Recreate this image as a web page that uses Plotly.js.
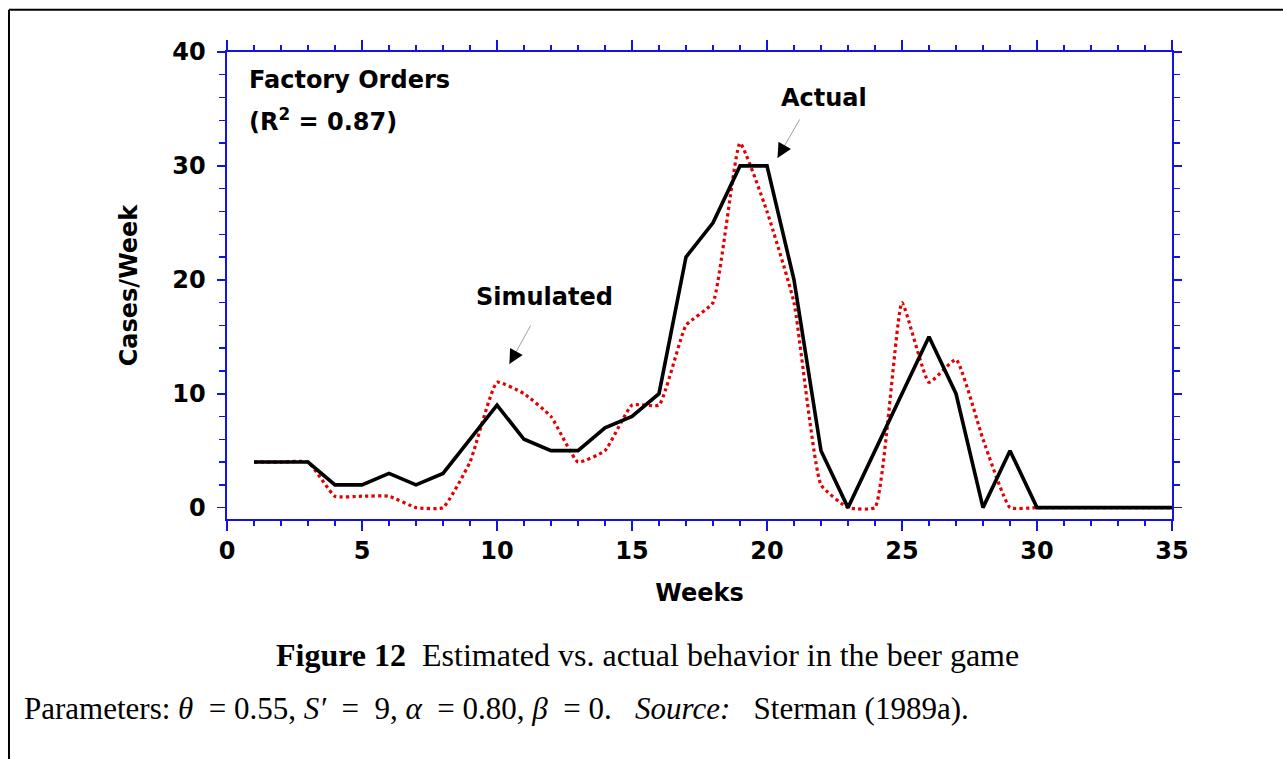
<!DOCTYPE html>
<html>
<head>
<meta charset="utf-8">
<script src="https://cdn.plot.ly/plotly-3.0.1.min.js"></script>
<style>
html,body{margin:0;padding:0;background:#fff;}
#chart{width:1283px;height:759px;}
</style>
</head>
<body>
<div id="chart"></div>
<script>
// Data
const weeks = [1,2,3,4,5,6,7,8,9,10,11,12,13,14,15,16,17,18,19,20,21,22,23,24,25,26,27,28,29,30,31,32,33,34,35];
const actualOrders = [4,4,4,2,2,3,2,3,6,9,6,5,5,7,8,10,22,25,30,30,20,5,0,5,10,15,10,0,5,0,0,0,0,0,0];
const simulatedOrders = [4,4,4,1,1,1,0,0,4,11,10,8,4,5,9,9,16,18,32,26,18,2,0,0,18,11,13,6,0,0,0,0,0,0,0];

const xTickVals = [0,5,10,15,20,25,30,35];
const yTickVals = [0,10,20,30,40];

const axisBlue = 'rgb(20,20,225)';
const boldFont = {family: 'DejaVu Sans, Liberation Sans, Arial, sans-serif', size: 24, color: '#000', weight: 'bold'};
const serif = 'Liberation Serif, Times New Roman, serif';
const NB = '\u00a0';

const traces = [
  {
    x: weeks, y: simulatedOrders, type: 'scatter', mode: 'lines', name: 'Simulated',
    line: {color: 'rgb(228,0,0)', width: 3.2, dash: 'dot', shape: 'spline', smoothing: 0.4},
    hoverinfo: 'x+y'
  },
  {
    x: weeks, y: actualOrders, type: 'scatter', mode: 'lines', name: 'Actual',
    line: {color: '#000', width: 3.6},
    hoverinfo: 'x+y'
  }
];

function pointer(tipX, tipY, dx, dy) {
  // thin grey shaft plus a short black head at the tip
  return [
    {x: tipX, y: tipY, xref: 'x', yref: 'y', ax: dx, ay: dy, text: '', showarrow: true,
     arrowhead: 0, arrowwidth: 0.8, arrowcolor: '#888'},
    {x: tipX, y: tipY, xref: 'x', yref: 'y', ax: dx * 0.25, ay: dy * 0.25, text: '', showarrow: true,
     arrowhead: 2, arrowsize: 3.6, arrowwidth: 0.8, arrowcolor: '#000'}
  ];
}

const layout = {
  width: 1283, height: 759,
  margin: {l: 227, r: 111, t: 52, b: 240},
  paper_bgcolor: '#fff', plot_bgcolor: '#fff',
  showlegend: false,
  font: boldFont,
  xaxis: {
    range: [0, 35], tickvals: xTickVals, ticktext: xTickVals.map(String),
    showgrid: false, zeroline: false,
    showline: true, linecolor: axisBlue, linewidth: 1.6, mirror: 'ticks',
    ticks: 'outside', ticklen: 10, tickwidth: 1.6, tickcolor: axisBlue,
    minor: {dtick: 1, tick0: 0, ticks: 'outside', ticklen: 5, tickwidth: 1.4, tickcolor: axisBlue, showgrid: false},
    tickfont: boldFont,
    title: {text: 'Weeks', font: boldFont, standoff: 20}
  },
  yaxis: {
    range: [-1, 40], tickvals: yTickVals, ticktext: yTickVals.map(String),
    showgrid: false, zeroline: false,
    showline: true, linecolor: axisBlue, linewidth: 1.6, mirror: 'ticks',
    ticks: 'outside', ticklen: 8, tickwidth: 1.6, tickcolor: axisBlue,
    ticklabelstandoff: 7,
    minor: {dtick: 2, tick0: 0, ticks: 'outside', ticklen: 6, tickwidth: 1.4, tickcolor: axisBlue, showgrid: false},
    tickfont: boldFont,
    title: {text: 'Cases/Week', font: boldFont, standoff: 28}
  },
  annotations: [
    {x: 0.74, y: 37.5, xref: 'x', yref: 'y', xanchor: 'left', yanchor: 'middle', text: 'Factory Orders', showarrow: false, font: boldFont},
    {x: 0.74, y: 34.0, xref: 'x', yref: 'y', xanchor: 'left', yanchor: 'middle', text: '(R<sup>2</sup> = 0.87)', showarrow: false, font: boldFont},
    {x: 22.1, y: 36.0, xref: 'x', yref: 'y', xanchor: 'center', yanchor: 'middle', text: 'Actual', showarrow: false, font: boldFont},
    {x: 11.75, y: 18.5, xref: 'x', yref: 'y', xanchor: 'center', yanchor: 'middle', text: 'Simulated', showarrow: false, font: boldFont},
    ...pointer(20.39, 30.7, 23, -40),
    ...pointer(10.46, 12.6, 22, -40),
    {x: 0.4455, y: -0.291, xref: 'paper', yref: 'paper', xanchor: 'center', yanchor: 'middle', showarrow: false,
     text: '<b>Figure 12</b>' + NB + NB + 'Estimated vs. actual behavior in the beer game',
     font: {family: serif, size: 32, color: '#000', weight: 'normal'}},
    {x: -0.2169, y: -0.405, xref: 'paper', yref: 'paper', xanchor: 'left', yanchor: 'middle', showarrow: false,
     text: 'Parameters: <i>θ</i>' + NB + NB + '= 0.55, <i>S′</i>' + NB + NB + '=' + NB + NB + '9, <i>α</i>' + NB + NB + '= 0.80, <i>β</i>' + NB + NB + '= 0.' + NB + NB + NB + '<i>Source:</i>' + NB + NB + NB + 'Sterman (1989a).',
     font: {family: serif, size: 31, color: '#000', weight: 'normal'}}
  ],
  shapes: [
    {type: 'line', xref: 'paper', yref: 'paper', x0: -0.2307, x1: -0.2307, y0: -0.6, y1: 1.0905, line: {color: '#000', width: 2}},
    {type: 'line', xref: 'paper', yref: 'paper', x0: -0.2307, x1: 1.2, y0: 1.0905, y1: 1.0905, line: {color: '#000', width: 2}}
  ]
};

Plotly.newPlot('chart', traces, layout, {displayModeBar: false, staticPlot: true});
</script>
</body>
</html>
